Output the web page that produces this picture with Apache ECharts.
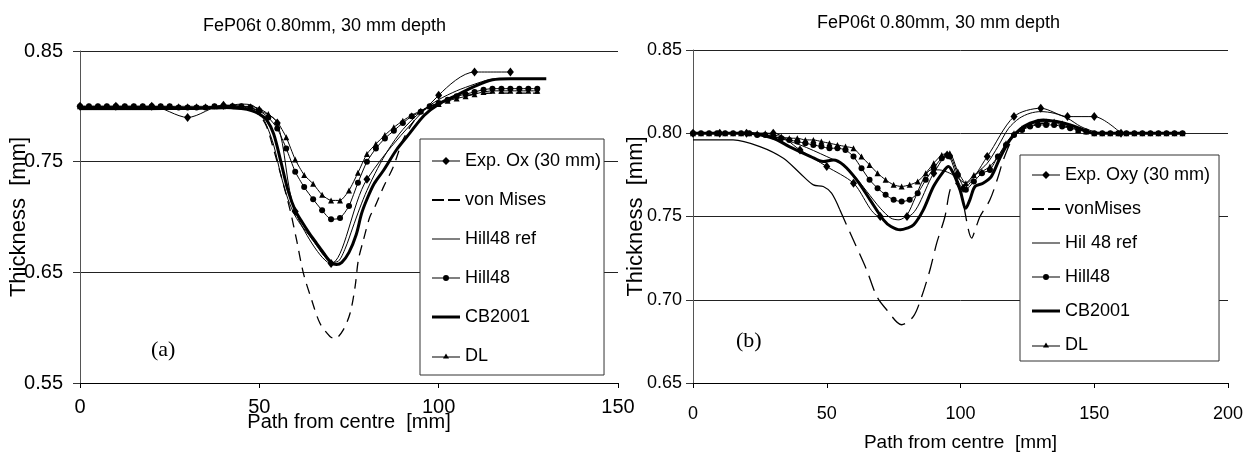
<!DOCTYPE html>
<html><head><meta charset="utf-8">
<script src="https://cdn.jsdelivr.net/npm/echarts@6/dist/echarts.min.js"></script>
<style>html,body{margin:0;padding:0;background:#fff}#c{width:1254px;height:457px}</style>
</head><body><div id="c"></div>
<script>
// ---------- Titles / labels ----------
const TITLE = 'FeP06t 0.80mm, 30 mm depth';
const X_NAME = 'Path from centre  [mm]';
const Y_NAME = 'Thickness  [mm]';
const LEFT_NAMES = ['Exp. Ox (30 mm)', 'von Mises', 'Hill48 ref', 'Hill48', 'CB2001', 'DL'];
const RIGHT_NAMES = ['Exp. Oxy (30 mm)', 'vonMises', 'Hil 48 ref', 'Hill48', 'CB2001', 'DL'];

// ---------- Left chart (a) ----------
const L_EXP = [[0,0.800],[10,0.800],[20,0.800],[30,0.790],[40,0.801],[50,0.796],[55,0.785],[60,0.705],[70,0.658],[80,0.734],[100,0.810],[110,0.831],[120,0.831]];
const L_VM = [[0,0.798],[20,0.798],[40,0.798],[45,0.798],[48,0.796],[50,0.792],[52,0.782],[54,0.761],[56,0.738],[58.6,0.706],[60.4,0.679],[62.3,0.649],[64.6,0.625],[66.9,0.604],[69.7,0.592],[71.1,0.590],[73.4,0.598],[75.3,0.613],[76.7,0.637],[77.6,0.661],[79,0.679],[80.8,0.700],[82.2,0.709],[84.6,0.727],[87.3,0.745],[90.1,0.770],[93.4,0.788],[96,0.797],[100,0.803],[105,0.808],[110,0.811],[115,0.812],[128,0.812]];
const L_H48REF = [[0,0.797],[20,0.797],[30,0.798],[40,0.800],[45,0.802],[48,0.801],[50,0.795],[52,0.783],[54,0.765],[56,0.738],[58,0.716],[60,0.701],[62,0.691],[64,0.683],[66,0.674],[68,0.665],[70,0.659],[72,0.660],[74,0.672],[76,0.690],[78,0.708],[80,0.724],[83,0.744],[86,0.761],[90,0.779],[95,0.795],[100,0.806],[105,0.814],[110,0.820],[114,0.824],[118,0.825]];
const L_CB = [[0,0.798],[10,0.798],[20,0.798],[30,0.798],[40,0.799],[45,0.798],[48,0.796],[50,0.793],[52,0.788],[54,0.775],[56,0.750],[58,0.724],[60,0.706],[62,0.695],[64,0.685],[66,0.676],[68,0.667],[70,0.659],[71.5,0.657],[73,0.659],[75,0.668],[77,0.684],[78.5,0.703],[80,0.716],[82,0.730],[84.6,0.742],[88.3,0.761],[92,0.776],[96,0.792],[100,0.802],[105,0.810],[110,0.818],[115,0.824],[120,0.825],[130,0.825]];
const L_MARK_X = [0,2.5,5,7.5,10,12.5,15,17.5,20,22.5,25,27.5,30,32.5,35,37.5,40,42.5,45,47.5,50,52.5,55,57.5,60,62.5,65,67.5,70,72.5,75,77.5,80,82.5,85,87.5,90,92.5,95,97.5,100,102.5,105,107.5,110,112.5,115,117.5,120,122.5,125,127.5];
const L_H48_Y = [0.800,0.800,0.800,0.800,0.800,0.800,0.800,0.800,0.800,0.800,
  0.800,0.799,0.799,0.799,0.799,0.800,0.800,0.800,0.800,0.799,
  0.796,0.790,0.780,0.762,0.741,0.727,0.716,0.706,0.698,0.699,
  0.710,0.731,0.750,0.762,0.771,0.778,0.785,0.791,0.795,0.800,
  0.803,0.806,0.809,0.811,0.813,0.815,0.816,0.816,0.816,0.816,
  0.816,0.816];
const L_DL_Y = [0.800,0.800,0.800,0.800,0.800,0.800,0.800,0.800,0.800,0.800,
  0.800,0.800,0.800,0.800,0.800,0.800,0.801,0.801,0.800,0.800,
  0.798,0.793,0.786,0.772,0.752,0.738,0.730,0.720,0.715,0.715,
  0.724,0.740,0.757,0.766,0.774,0.781,0.787,0.792,0.796,0.800,
  0.802,0.805,0.807,0.809,0.811,0.813,0.814,0.814,0.814,0.814,
  0.814,0.814];

// ---------- Right chart (b) ----------
const R_EXP = [[0,0.800],[10,0.800],[20,0.800],[30,0.800],[40,0.790],[50,0.780],[60,0.770],[70,0.750],[80,0.750],[90,0.776],[95,0.787],[101,0.767],[110,0.786],[120,0.810],[130,0.815],[140,0.810],[150,0.810],[160,0.800]];
const R_VM_SOLID = [[0,0.796],[15,0.796],[25,0.792],[33.8,0.785],[40,0.776],[45,0.769],[48.7,0.768],[51.8,0.764],[54.9,0.754]];
const R_VM_DASH = [[54.9,0.754],[59.9,0.736],[64.9,0.718],[68.7,0.702],[72.4,0.694],[78,0.685],[82.4,0.690],[85.5,0.702],[88.6,0.718],[91.1,0.734],[94.2,0.750],[96.1,0.766],[98,0.770],[100,0.765],[101,0.758],[104.2,0.737],[105.9,0.744],[107.3,0.750],[111,0.760],[114.1,0.774],[116,0.784],[120,0.798],[125,0.804],[130,0.806],[135,0.806],[140,0.804],[145,0.802],[150,0.800],[184,0.800]];
const R_H48REF = [[0,0.800],[20,0.800],[30,0.798],[40,0.793],[50,0.786],[55,0.782],[60,0.775],[65,0.765],[70,0.755],[74,0.749],[77,0.748],[80,0.751],[83,0.761],[86,0.772],[89,0.778],[92,0.778],[96,0.776],[99,0.773],[102,0.770],[106,0.776],[110,0.782],[114,0.792],[118,0.803],[122,0.809],[126,0.812],[130,0.813],[135,0.812],[140,0.809],[145,0.804],[150,0.801],[155,0.800],[184,0.800]];
const R_CB = [[0,0.800],[20,0.800],[30,0.797],[36,0.792],[44,0.786],[48.7,0.783],[52.5,0.784],[56.2,0.781],[61.2,0.772],[66.2,0.760],[71.2,0.748],[74,0.744],[77.5,0.742],[80,0.743],[82.5,0.745],[86.1,0.754],[89.9,0.768],[93.6,0.777],[95.5,0.780],[97.3,0.776],[99.8,0.766],[102,0.755],[103.5,0.760],[105.4,0.768],[108.4,0.770],[111.5,0.774],[114.7,0.785],[118.5,0.796],[122,0.802],[126,0.806],[131,0.808],[136,0.807],[141,0.805],[146,0.802],[150,0.800],[184,0.800]];
const R_MARK_X = [0,3,6,9,12,15,18,21,24,27,30,33,36,39,42,45,48,51,54,57,60,63,66,69,72,75,78,81,84,87,90,93,96,99,102,105,108,111,114,117,120,123,126,129,132,135,138,141,144,147,150,153,156,159,162,165,168,171,174,177,180,183];
const R_H48_Y = [0.800,0.800,0.800,0.800,0.800,0.800,0.800,0.800,0.799,0.799,
  0.798,0.797,0.796,0.795,0.794,0.793,0.792,0.791,0.791,0.790,
  0.786,0.779,0.772,0.767,0.763,0.760,0.759,0.760,0.764,0.772,
  0.779,0.785,0.786,0.775,0.766,0.771,0.776,0.778,0.786,0.793,
  0.799,0.802,0.804,0.805,0.805,0.805,0.804,0.803,0.802,0.801,
  0.800,0.800,0.800,0.800,0.800,0.800,0.800,0.800,0.800,0.800,
  0.800,0.800];
const R_DL_Y = [0.800,0.800,0.800,0.800,0.800,0.800,0.800,0.800,0.800,0.800,
  0.799,0.798,0.797,0.797,0.796,0.796,0.795,0.794,0.793,0.792,
  0.791,0.786,0.781,0.776,0.772,0.769,0.768,0.769,0.771,0.776,
  0.782,0.787,0.788,0.777,0.770,0.775,0.777,0.780,0.786,0.794,
  0.800,0.803,0.805,0.807,0.807,0.807,0.806,0.804,0.802,0.801,
  0.800,0.800,0.800,0.800,0.800,0.800,0.800,0.800,0.800,0.800,
  0.800,0.800];

// ---------- helpers ----------
const F = "'Liberation Sans', Arial, sans-serif";
const zip = (xs, ys) => xs.map((x, i) => [x, ys[i]]);
const K = '#000';

const ICON_EXP = 'path://M0,4h28v1h-28z M14,0.5L18,4.5L14,8.5L10,4.5Z';
const ICON_DASH = 'path://M0,0h12v2.2h-12z M16,0h12v2.2h-12z';
const ICON_THIN = 'path://M0,0h28v1h-28z';
const ICON_CIRC = 'path://M0,3h28v1h-28z M17,3.5A3,3 0 1 1 11,3.5A3,3 0 1 1 17,3.5Z';
const ICON_THICK = 'path://M0,0h28v3h-28z';
const ICON_TRI = 'path://M0,3.5h28v1h-28z M14,0.5L17,5.5L11,5.5Z';
const ICONS = [ICON_EXP, ICON_DASH, ICON_THIN, ICON_CIRC, ICON_THICK, ICON_TRI];

function ser(name, data, idx, o) {
  return Object.assign({
    type: 'line', name, data, xAxisIndex: idx, yAxisIndex: idx,
    symbol: 'none', showSymbol: false, smooth: 0.3,
    lineStyle: { color: K, width: 1 },
    itemStyle: { color: K, borderWidth: 0 },
    emphasis: { disabled: true }, silent: true, animation: false
  }, o);
}

function legend(names, left, top, padding, gap) {
  return {
    orient: 'vertical', left, top, padding, itemGap: gap,
    itemWidth: 28, itemHeight: 12, selectedMode: false,
    backgroundColor: '#fff', borderColor: '#333', borderWidth: 1,
    textStyle: { fontFamily: F, fontSize: 18, color: K, lineHeight: 18 },
    itemStyle: { borderWidth: 0 },
    data: names.map((n, i) => ({ name: n, icon: ICONS[i] }))
  };
}

const series = [
  ser(LEFT_NAMES[1], L_VM, 0, { lineStyle: { color: K, width: 1.3, type: [10, 7] } }),
  ser(LEFT_NAMES[2], L_H48REF, 0, {}),
  ser(LEFT_NAMES[4], L_CB, 0, { lineStyle: { color: K, width: 3 } }),
  ser(LEFT_NAMES[3], zip(L_MARK_X, L_H48_Y), 0, { symbol: 'circle', showSymbol: true, symbolSize: 6, smooth: 0.2 }),
  ser(LEFT_NAMES[5], zip(L_MARK_X, L_DL_Y), 0, { symbol: 'triangle', showSymbol: true, symbolSize: 6, smooth: 0.2 }),
  ser(LEFT_NAMES[0], L_EXP, 0, { symbol: 'diamond', showSymbol: true, symbolSize: [7, 9] }),

  ser(RIGHT_NAMES[1], R_VM_DASH, 1, { lineStyle: { color: K, width: 1.3, type: [16, 8] } }),
  ser(RIGHT_NAMES[1], R_VM_SOLID, 1, { lineStyle: { color: K, width: 1.2 } }),
  ser(RIGHT_NAMES[2], R_H48REF, 1, {}),
  ser(RIGHT_NAMES[4], R_CB, 1, { lineStyle: { color: K, width: 3 } }),
  ser(RIGHT_NAMES[3], zip(R_MARK_X, R_H48_Y), 1, { symbol: 'circle', showSymbol: true, symbolSize: 6, smooth: 0.2 }),
  ser(RIGHT_NAMES[5], zip(R_MARK_X, R_DL_Y), 1, { symbol: 'triangle', showSymbol: true, symbolSize: 6, smooth: 0.2 }),
  ser(RIGHT_NAMES[0], R_EXP, 1, { symbol: 'diamond', showSymbol: true, symbolSize: [7, 9] })
];

function xAxis(idx, max, lblSize, margin, nameGap, nameSize) {
  return {
    gridIndex: idx, type: 'value', min: 0, max, interval: 50,
    axisLine: { show: true, onZero: false, lineStyle: { color: K, width: 1 } },
    axisTick: { show: true, length: 5, lineStyle: { color: K } },
    splitLine: { show: false },
    axisLabel: { fontFamily: F, fontSize: lblSize, lineHeight: lblSize, color: K, margin },
    name: X_NAME, nameLocation: 'middle', nameGap, nameMoveOverlap: false,
    nameTextStyle: { fontFamily: F, fontSize: nameSize, lineHeight: nameSize, color: K }
  };
}
function yAxis(idx, min, interval, lblSize, margin, nameGap) {
  return {
    gridIndex: idx, type: 'value', min, max: 0.85, interval,
    axisLine: { show: true, onZero: false, lineStyle: { color: '#555', width: 1 } },
    axisTick: { show: true, length: 7, lineStyle: { color: '#333' } },
    splitLine: { show: true, lineStyle: { color: '#222', width: 1 } },
    axisLabel: { fontFamily: F, fontSize: lblSize, lineHeight: lblSize, color: K, margin, formatter: v => v.toFixed(2) },
    name: Y_NAME, nameLocation: 'middle', nameGap, nameMoveOverlap: false,
    nameTextStyle: { fontFamily: F, fontSize: 22, lineHeight: 22, color: K }
  };
}

const titleStyle = { fontFamily: F, fontSize: 18, lineHeight: 18, fontWeight: 'normal', color: K };
const serifStyle = { fontFamily: "'Liberation Serif', 'Times New Roman', serif", fontSize: 22, lineHeight: 22, fontWeight: 'normal', color: K };

const option = {
  backgroundColor: '#fff',
  animation: false,
  title: [
    { text: TITLE, left: 203, top: 17, padding: 0, textStyle: titleStyle },
    { text: TITLE, left: 817, top: 14, padding: 0, textStyle: titleStyle },
    { text: '(a)', left: 151, top: 339, padding: 0, textStyle: serifStyle },
    { text: '(b)', left: 736, top: 330, padding: 0, textStyle: serifStyle }
  ],
  grid: [
    { left: 80, right: 636, top: 51, bottom: 74, containLabel: false, outerBoundsMode: 'none' },
    { left: 693, right: 26, top: 50, bottom: 74, containLabel: false, outerBoundsMode: 'none' }
  ],
  xAxis: [
    xAxis(0, 150, 20, 14, 29, 20),
    xAxis(1, 200, 18, 22, 50, 19)
  ],
  yAxis: [
    yAxis(0, 0.55, 0.1, 20, 17, 50),
    yAxis(1, 0.65, 0.05, 18, 11, 46)
  ],
  legend: [
    legend(LEFT_NAMES, 420, 139, [13, 3, 10, 12], 21),
    legend(RIGHT_NAMES, 1020, 155, [11, 9, 7, 12], 16)
  ],
  series
};

const chart = echarts.init(document.getElementById('c'), null, { renderer: 'canvas' });
chart.setOption(option);
</script>
</body></html>
